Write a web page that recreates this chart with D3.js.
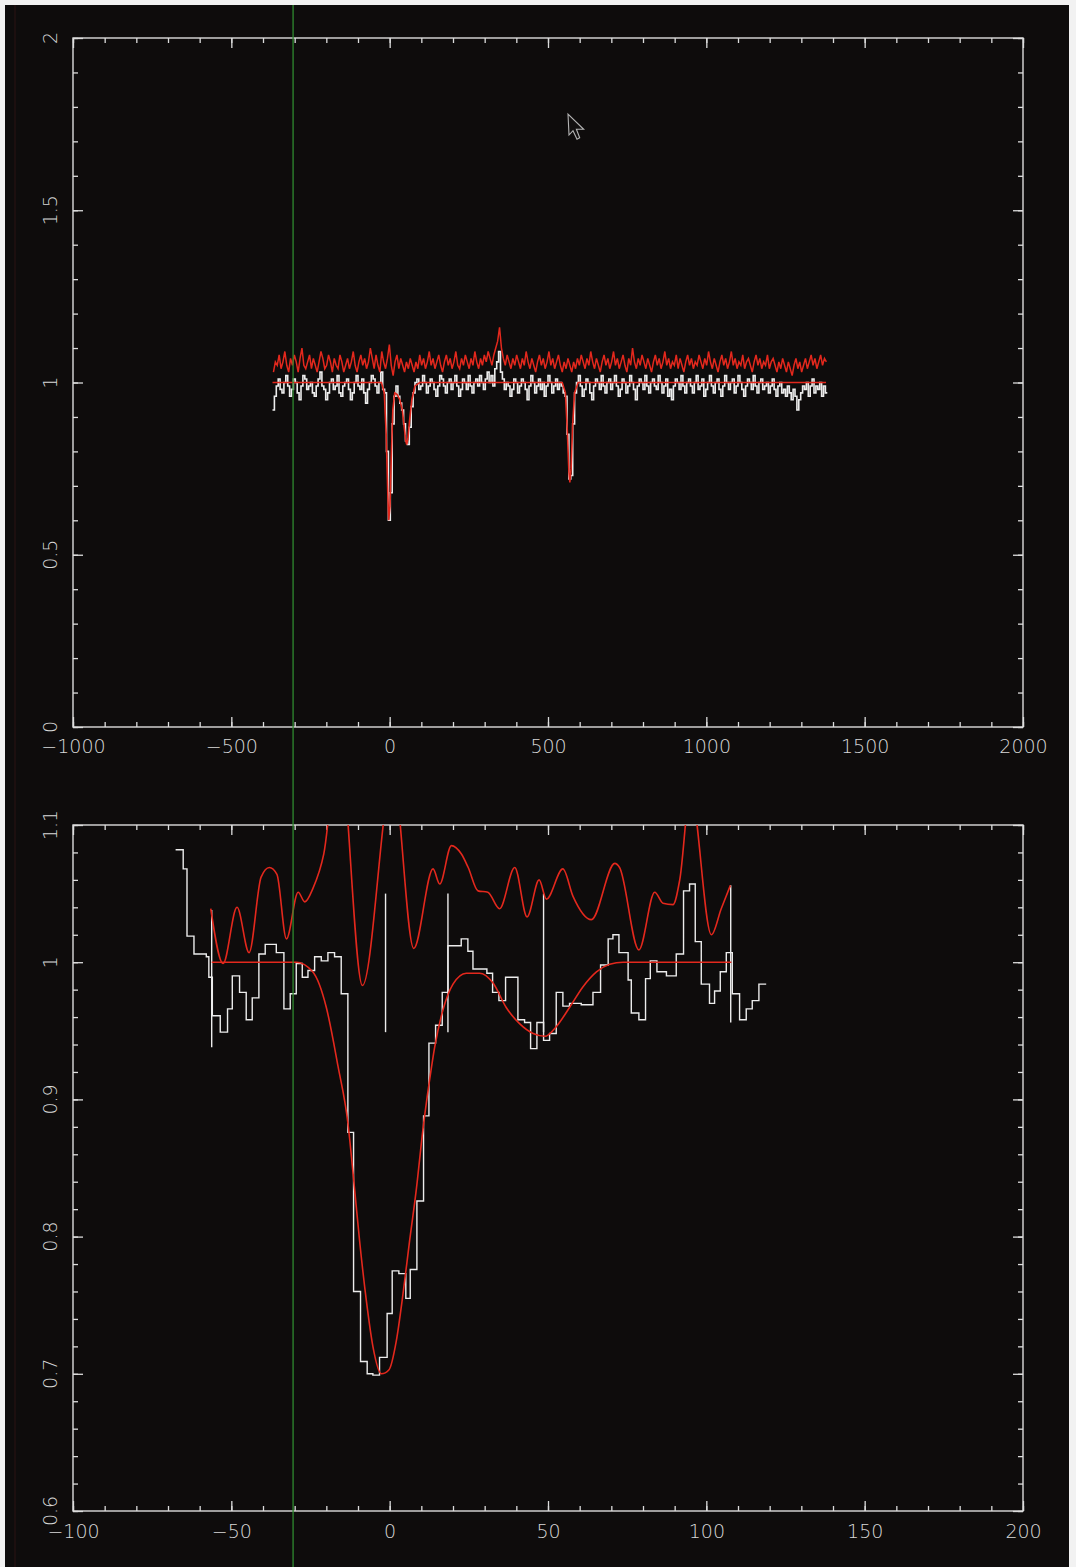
<!DOCTYPE html>
<html><head><meta charset="utf-8">
<script src="https://cdn.jsdelivr.net/npm/d3@7"></script>
<style>html,body{margin:0;padding:0;background:#fff;}svg{display:block}</style>
</head><body><svg id="c" width="1076" height="1567"></svg>
<script>
// ---------------- DATA ----------------
// Top panel: wide velocity range, regular velocity grid
const topVelStart = -370, topVelStep = 6;
const topWhiteFlux = [
0.92,0.96,0.99,1.01,0.98,0.97,1.00,1.02,0.99,0.96,
0.98,1.01,1.00,0.97,0.95,0.99,1.02,1.01,0.98,0.99,
1.00,0.97,0.96,0.99,1.01,1.03,0.99,0.98,0.95,0.97,
1.00,1.01,0.98,0.99,1.02,0.97,0.96,0.99,1.00,1.01,
0.98,0.95,0.97,1.00,1.02,0.99,0.98,1.01,0.97,0.94,
0.98,1.00,1.02,1.01,0.99,0.97,1.00,1.03,0.98,0.97,
0.80,0.60,0.68,0.88,0.96,0.99,0.96,0.94,0.92,0.88,
0.83,0.82,0.87,0.93,0.97,1.00,1.01,0.98,0.99,1.02,
1.00,0.97,0.99,1.01,1.00,0.98,0.96,0.99,1.02,1.01,
0.99,0.97,1.00,1.01,0.98,1.00,1.02,0.99,0.96,0.98,
1.01,1.00,0.98,1.02,0.99,0.97,1.00,1.01,0.99,1.02,
1.00,0.98,1.01,1.03,1.00,1.02,0.99,1.04,1.06,1.09,
1.03,1.01,0.98,1.00,0.99,0.96,0.98,1.01,1.00,0.97,
0.99,1.01,1.00,0.98,0.95,0.99,1.02,1.00,0.97,0.99,
1.01,0.98,1.00,0.96,0.99,1.02,1.00,0.97,0.99,1.01,
0.98,1.00,0.99,0.97,0.96,0.85,0.72,0.73,0.88,0.97,
1.00,1.02,0.99,0.96,0.98,1.01,1.00,0.97,0.95,0.99,
1.01,1.00,0.98,1.02,0.99,0.97,1.00,1.01,0.98,1.00,
1.02,0.99,0.96,0.98,1.01,1.00,0.97,0.99,1.02,1.00,
0.98,0.95,0.99,1.01,1.00,0.98,1.02,0.99,0.97,1.00,
1.01,0.99,0.98,1.02,1.00,0.97,0.99,1.01,0.96,0.98,
0.95,0.99,1.01,1.00,0.98,1.02,0.99,0.97,1.00,1.01,
0.99,0.97,1.00,1.02,0.98,0.99,1.01,0.96,0.98,1.00,
1.02,0.99,0.97,1.00,1.01,0.98,0.96,0.99,1.02,1.00,
0.98,1.00,1.01,0.97,0.99,1.02,1.00,0.98,0.96,0.99,
1.01,1.00,0.98,1.02,0.99,0.97,1.00,1.01,0.98,0.99,
1.00,0.97,0.99,1.01,0.98,0.96,0.99,1.00,0.97,0.98,
0.96,0.99,0.97,0.95,0.98,0.96,0.92,0.95,0.97,0.99,
0.98,1.00,0.96,0.99,1.01,0.97,0.99,0.98,1.00,0.96,
0.99,0.97];
const topRedFlux = [
1.03,1.06,1.05,1.08,1.04,1.06,1.09,1.05,1.03,1.07,
1.05,1.08,1.06,1.03,1.07,1.10,1.05,1.04,1.06,1.08,
1.04,1.07,1.05,1.03,1.06,1.09,1.07,1.04,1.05,1.08,
1.06,1.03,1.07,1.05,1.04,1.08,1.06,1.03,1.05,1.07,
1.04,1.06,1.09,1.05,1.03,1.06,1.08,1.05,1.07,1.04,
1.06,1.10,1.07,1.04,1.08,1.05,1.03,1.09,1.06,1.04,
1.07,1.11,1.05,1.02,1.06,1.08,1.04,1.07,1.05,1.03,
1.06,1.04,1.07,1.05,1.03,1.06,1.04,1.08,1.05,1.07,
1.04,1.06,1.09,1.05,1.07,1.04,1.06,1.08,1.05,1.03,
1.06,1.08,1.05,1.07,1.04,1.06,1.09,1.05,1.04,1.07,
1.05,1.08,1.06,1.04,1.07,1.05,1.09,1.06,1.04,1.07,
1.05,1.08,1.06,1.09,1.07,1.05,1.08,1.10,1.12,1.16,
1.10,1.07,1.05,1.08,1.06,1.04,1.07,1.05,1.08,1.06,
1.04,1.07,1.05,1.09,1.06,1.04,1.07,1.05,1.03,1.06,
1.08,1.05,1.07,1.04,1.06,1.09,1.05,1.07,1.04,1.06,
1.08,1.05,1.03,1.06,1.04,1.07,1.05,1.03,1.06,1.04,
1.07,1.05,1.08,1.06,1.04,1.07,1.05,1.09,1.06,1.04,
1.07,1.05,1.03,1.06,1.08,1.05,1.07,1.04,1.06,1.09,
1.05,1.07,1.04,1.06,1.08,1.05,1.03,1.07,1.05,1.10,
1.06,1.04,1.07,1.05,1.08,1.06,1.04,1.07,1.05,1.03,
1.06,1.08,1.05,1.07,1.04,1.06,1.09,1.05,1.07,1.04,
1.06,1.05,1.08,1.04,1.07,1.05,1.03,1.06,1.08,1.05,
1.07,1.04,1.06,1.05,1.08,1.06,1.04,1.07,1.05,1.09,
1.06,1.04,1.07,1.05,1.03,1.06,1.08,1.05,1.07,1.04,
1.06,1.09,1.05,1.07,1.04,1.06,1.05,1.08,1.04,1.06,
1.07,1.05,1.03,1.06,1.08,1.05,1.07,1.04,1.06,1.05,
1.08,1.04,1.06,1.07,1.05,1.03,1.06,1.04,1.07,1.05,
1.03,1.06,1.04,1.02,1.05,1.07,1.04,1.06,1.03,1.05,
1.07,1.04,1.06,1.08,1.05,1.07,1.04,1.06,1.08,1.05,
1.07,1.06];
const topModelVel  = [-370,-26,-17,-11,-6,-3,1,5,10,16,24,32,40,46,51,54,58,63,70,80,95,545,555,561,566,569,573,578,584,595,1378];
const topModelFlux = [1,1,0.97,0.85,0.68,0.60,0.64,0.78,0.92,0.97,0.965,0.95,0.92,0.87,0.83,0.82,0.84,0.89,0.95,0.99,1,1,0.97,0.86,0.74,0.71,0.75,0.88,0.97,1,1];
const topXTicks = [-1000,-500,0,500,1000,1500,2000];
const topXLabels = ["\u22121000","\u2212500","0","500","1000","1500","2000"];
const topYTicks = [0,0.5,1,1.5,2];
const topYLabels = ["0","0.5","1","1.5","2"];

// Bottom panel: zoom on the main line
const bottomBinStart = [-67.6,-65.2,-64.0,-61.8,-57.9,-57.1,-56.0,-53.5,-51.2,-49.7,-47.4,-45.3,-43.4,-41.3,-39.3,-35.8,-33.4,-31.4,-29.5,-27.6,-25.8,-23.7,-21.6,-19.5,-17.4,-15.3,-13.2,-11.4,-9.2,-7.1,-5.3,-3.2,-0.8,0.8,2.9,5.1,6.5,8.6,10.7,12.4,14.5,16.6,18.4,22.6,24.7,26.3,30.7,32.5,34.5,36.6,40.5,42.6,44.5,46.5,48.6,50.5,52.6,54.7,56.8,60.5,64.2,66.6,69.0,70.5,72.4,75.3,76.3,78.7,80.8,82.3,84.4,87.4,90.5,92.8,94.7,96.5,98.4,101.0,102.6,104.4,106.3,108.2,110.5,112.6,114.5,116.6];
const bottomBinFlux  = [1.082,1.068,1.019,1.006,1.004,0.989,0.961,0.949,0.966,0.990,0.978,0.958,0.974,1.006,1.013,1.007,0.966,0.977,0.999,0.989,0.994,1.004,1.001,1.007,1.004,0.977,0.876,0.760,0.709,0.700,0.699,0.712,0.744,0.775,0.773,0.755,0.776,0.826,0.888,0.941,0.954,0.978,1.012,1.017,1.008,0.995,0.992,0.978,0.972,0.989,0.958,0.956,0.937,0.956,0.943,0.948,0.978,0.968,0.970,0.969,0.978,0.998,1.017,1.020,1.007,0.987,0.963,0.958,0.988,1.001,0.993,0.990,1.006,1.052,1.057,1.015,0.984,0.970,0.979,0.993,1.007,0.977,0.958,0.966,0.972,0.984];
const bottomBinEnd = 118.9;
const bottomRedVel  = [-56.5,-52.6,-48.2,-44.4,-40.6,-38.0,-35.6,-32.6,-28.9,-26.8,-24.2,-20.8,-16.0,-8.6,1.0,7.6,13.7,15.8,19.5,22.6,24.8,27.9,31.0,34.7,39.5,43.4,47.2,49.5,54.7,57.9,63.7,71.1,72.6,78.7,83.7,86.3,89.5,91.6,95.0,101.6,104.7,107.6];
const bottomRedFlux = [1.039,0.999,1.040,1.007,1.062,1.069,1.064,1.017,1.051,1.044,1.054,1.079,1.160,0.983,1.137,1.010,1.068,1.057,1.085,1.079,1.069,1.052,1.051,1.039,1.069,1.033,1.060,1.046,1.068,1.048,1.031,1.072,1.069,1.009,1.051,1.043,1.042,1.060,1.125,1.020,1.039,1.056];
const bottomModelVel  = [-56.2,-29.5,-24.3,-20.0,-16.3,-13.2,-11.3,-9.5,-7.4,-5.3,-2.6,-0.2,2.1,4.2,6.3,8.4,10.5,12.6,14.2,16.8,20.0,24.2,28.4,32.6,36.8,41.1,45.3,49.0,52.6,56.8,61.0,65.3,69.5,73.7,107.9];
const bottomModelFlux = [1.0,1.0,0.993,0.967,0.924,0.883,0.840,0.797,0.754,0.720,0.700,0.703,0.724,0.758,0.797,0.834,0.878,0.914,0.938,0.965,0.984,0.992,0.992,0.985,0.967,0.955,0.948,0.946,0.953,0.967,0.982,0.993,0.9985,1.0,1.0];
const bottomMarkerVel  = [-56.2,-1.3,18.4,48.6,107.7];
const bottomMarkerLow  = [0.938,0.949,0.949,0.949,0.956];
const bottomMarkerHigh = [1.038,1.050,1.050,1.050,1.056];
const bottomXTicks = [-100,-50,0,50,100,150,200];
const bottomXLabels = ["\u2212100","\u221250","0","50","100","150","200"];
const bottomYTicks = [0.6,0.7,0.8,0.9,1,1.1];
const bottomYLabels = ["0.6","0.7","0.8","0.9","1","1.1"];
const cursorVel = -30.5;   // green cursor line (bottom panel units)

// ---------------- DRAWING ----------------
const axisColor = "#dcdcdc", whiteCol = "#ececec", redCol = "#e3281d";
const FONT = "'DejaVu Sans', sans-serif";
const svg = d3.select("#c");
svg.append("rect").attr("width",1076).attr("height",1567).attr("fill","#f2f2f2");
svg.append("rect").attr("x",5).attr("y",5).attr("width",1064).attr("height",1562).attr("fill","#0e0c0c");
svg.append("line").attr("x1",15).attr("x2",15).attr("y1",5).attr("y2",1567).attr("stroke","#2a1212").attr("stroke-width",1);

function makePanel(id, xDom, yDom, top, bottom, xTicks, xLabels, yTicks, yLabels, xMinorN, yMinorN, labelPad){
  const left = 73, right = 1023;
  const x = d3.scaleLinear().domain(xDom).range([left, right]);
  const y = d3.scaleLinear().domain(yDom).range([bottom, top]);
  const g = svg.append("g");
  g.append("clipPath").attr("id", id).append("rect")
    .attr("x", left).attr("y", top).attr("width", right-left).attr("height", bottom-top);
  const style = s => { s.select(".domain").remove(); s.selectAll("line").attr("stroke",axisColor).attr("stroke-width",1.3); };
  const xMinor = x.ticks(xMinorN), yMinor = y.ticks(yMinorN);
  g.append("g").attr("transform",`translate(0,${bottom})`).call(d3.axisBottom(x).tickValues(xMinor).tickSize(-5).tickFormat("")).call(style);
  g.append("g").attr("transform",`translate(0,${top})`).call(d3.axisTop(x).tickValues(xMinor).tickSize(-5).tickFormat("")).call(style);
  g.append("g").attr("transform",`translate(${left},0)`).call(d3.axisLeft(y).tickValues(yMinor).tickSize(-5).tickFormat("")).call(style);
  g.append("g").attr("transform",`translate(${right},0)`).call(d3.axisRight(y).tickValues(yMinor).tickSize(-5).tickFormat("")).call(style);
  const xa = g.append("g").attr("transform",`translate(0,${bottom})`)
    .call(d3.axisBottom(x).tickValues(xTicks).tickSize(-10).tickPadding(labelPad).tickFormat((d,i)=>xLabels[i])).call(style);
  xa.selectAll("text").attr("fill","#d8d8d8").style("font-family",FONT).style("font-size","19px").style("font-weight","200");
  g.append("g").attr("transform",`translate(0,${top})`).call(d3.axisTop(x).tickValues(xTicks).tickSize(-10).tickFormat("")).call(style);
  g.append("g").attr("transform",`translate(${left},0)`).call(d3.axisLeft(y).tickValues(yTicks).tickSize(-10).tickFormat("")).call(style);
  g.append("g").attr("transform",`translate(${right},0)`).call(d3.axisRight(y).tickValues(yTicks).tickSize(-10).tickFormat("")).call(style);
  g.selectAll("text.ylab").data(yTicks).enter().append("text").attr("class","ylab")
    .attr("transform", d => `translate(50,${y(d)}) rotate(-90)`)
    .attr("text-anchor","middle").attr("dy","0.36em")
    .attr("fill","#d8d8d8").style("font-family",FONT).style("font-size","19px").style("font-weight","200")
    .text((d,i)=>yLabels[i]);
  g.append("rect").attr("x",left).attr("y",top).attr("width",right-left).attr("height",bottom-top)
    .attr("fill","none").attr("stroke",axisColor).attr("stroke-width",1.4);
  const plot = g.append("g").attr("clip-path",`url(#${id})`);
  return {x, y, plot};
}

// ---- top panel
const T = makePanel("clipTop", [-1000,2000], [0,2], 38, 727, topXTicks, topXLabels, topYTicks, topYLabels, 30, 20, 12.5);
const topWhitePts = topWhiteFlux.map((f,i)=>[topVelStart + i*topVelStep, f]);
topWhitePts.push([topVelStart + topWhiteFlux.length*topVelStep, topWhiteFlux[topWhiteFlux.length-1]]);
T.plot.append("path").datum(topWhitePts)
  .attr("d", d3.line().x(d=>T.x(d[0])).y(d=>T.y(d[1])).curve(d3.curveStepAfter))
  .attr("fill","none").attr("stroke",whiteCol).attr("stroke-width",1.6);
const topRedPts = topRedFlux.map((f,i)=>[topVelStart + i*topVelStep + topVelStep/2, f]);
T.plot.append("path").datum(topRedPts)
  .attr("d", d3.line().x(d=>T.x(d[0])).y(d=>T.y(d[1])))
  .attr("fill","none").attr("stroke",redCol).attr("stroke-width",1.5);
T.plot.append("path").datum(topModelVel.map((v,i)=>[v, topModelFlux[i]]))
  .attr("d", d3.line().x(d=>T.x(d[0])).y(d=>T.y(d[1])))
  .attr("fill","none").attr("stroke",redCol).attr("stroke-width",1.6);

// ---- bottom panel
const B = makePanel("clipBot", [-100,200], [0.6,1.1], 825, 1511, bottomXTicks, bottomXLabels, bottomYTicks, bottomYLabels, 30, 25, 14);
const binPts = bottomBinStart.map((v,i)=>[v, bottomBinFlux[i]]);
binPts.push([bottomBinEnd, bottomBinFlux[bottomBinFlux.length-1]]);
B.plot.append("path").datum(binPts)
  .attr("d", d3.line().x(d=>B.x(d[0])).y(d=>B.y(d[1])).curve(d3.curveStepAfter))
  .attr("fill","none").attr("stroke",whiteCol).attr("stroke-width",1.4);
B.plot.selectAll("line.marker").data(bottomMarkerVel).enter().append("line").attr("class","marker")
  .attr("x1",d=>B.x(d)).attr("x2",d=>B.x(d))
  .attr("y1",(d,i)=>B.y(bottomMarkerLow[i])).attr("y2",(d,i)=>B.y(bottomMarkerHigh[i]))
  .attr("stroke",whiteCol).attr("stroke-width",1.4);
B.plot.append("path").datum(bottomRedVel.map((v,i)=>[v, bottomRedFlux[i]]))
  .attr("d", d3.line().x(d=>B.x(d[0])).y(d=>B.y(d[1])).curve(d3.curveMonotoneX))
  .attr("fill","none").attr("stroke",redCol).attr("stroke-width",1.6);
B.plot.append("path").datum(bottomModelVel.map((v,i)=>[v, bottomModelFlux[i]]))
  .attr("d", d3.line().x(d=>B.x(d[0])).y(d=>B.y(d[1])).curve(d3.curveMonotoneX))
  .attr("fill","none").attr("stroke",redCol).attr("stroke-width",1.6);

// ---- green cursor line across the whole screen
svg.append("line").attr("x1",B.x(cursorVel)).attr("x2",B.x(cursorVel)).attr("y1",5).attr("y2",1567)
  .attr("stroke","#2f8a2f").attr("stroke-width",1.3);

// ---- mouse pointer glyph (screen-capture artefact)
const pointerShape = [[0,0],[1,21],[5,16.7],[9,25.3],[11.7,23.7],[8.4,15.3],[15.7,15.3]];
svg.append("polygon").attr("transform","translate(568,114)")
  .attr("points", pointerShape.map(p=>p.join(",")).join(" "))
  .attr("fill","#121010").attr("stroke","#b4b4b4").attr("stroke-width",1.1);
</script>
</body></html>
